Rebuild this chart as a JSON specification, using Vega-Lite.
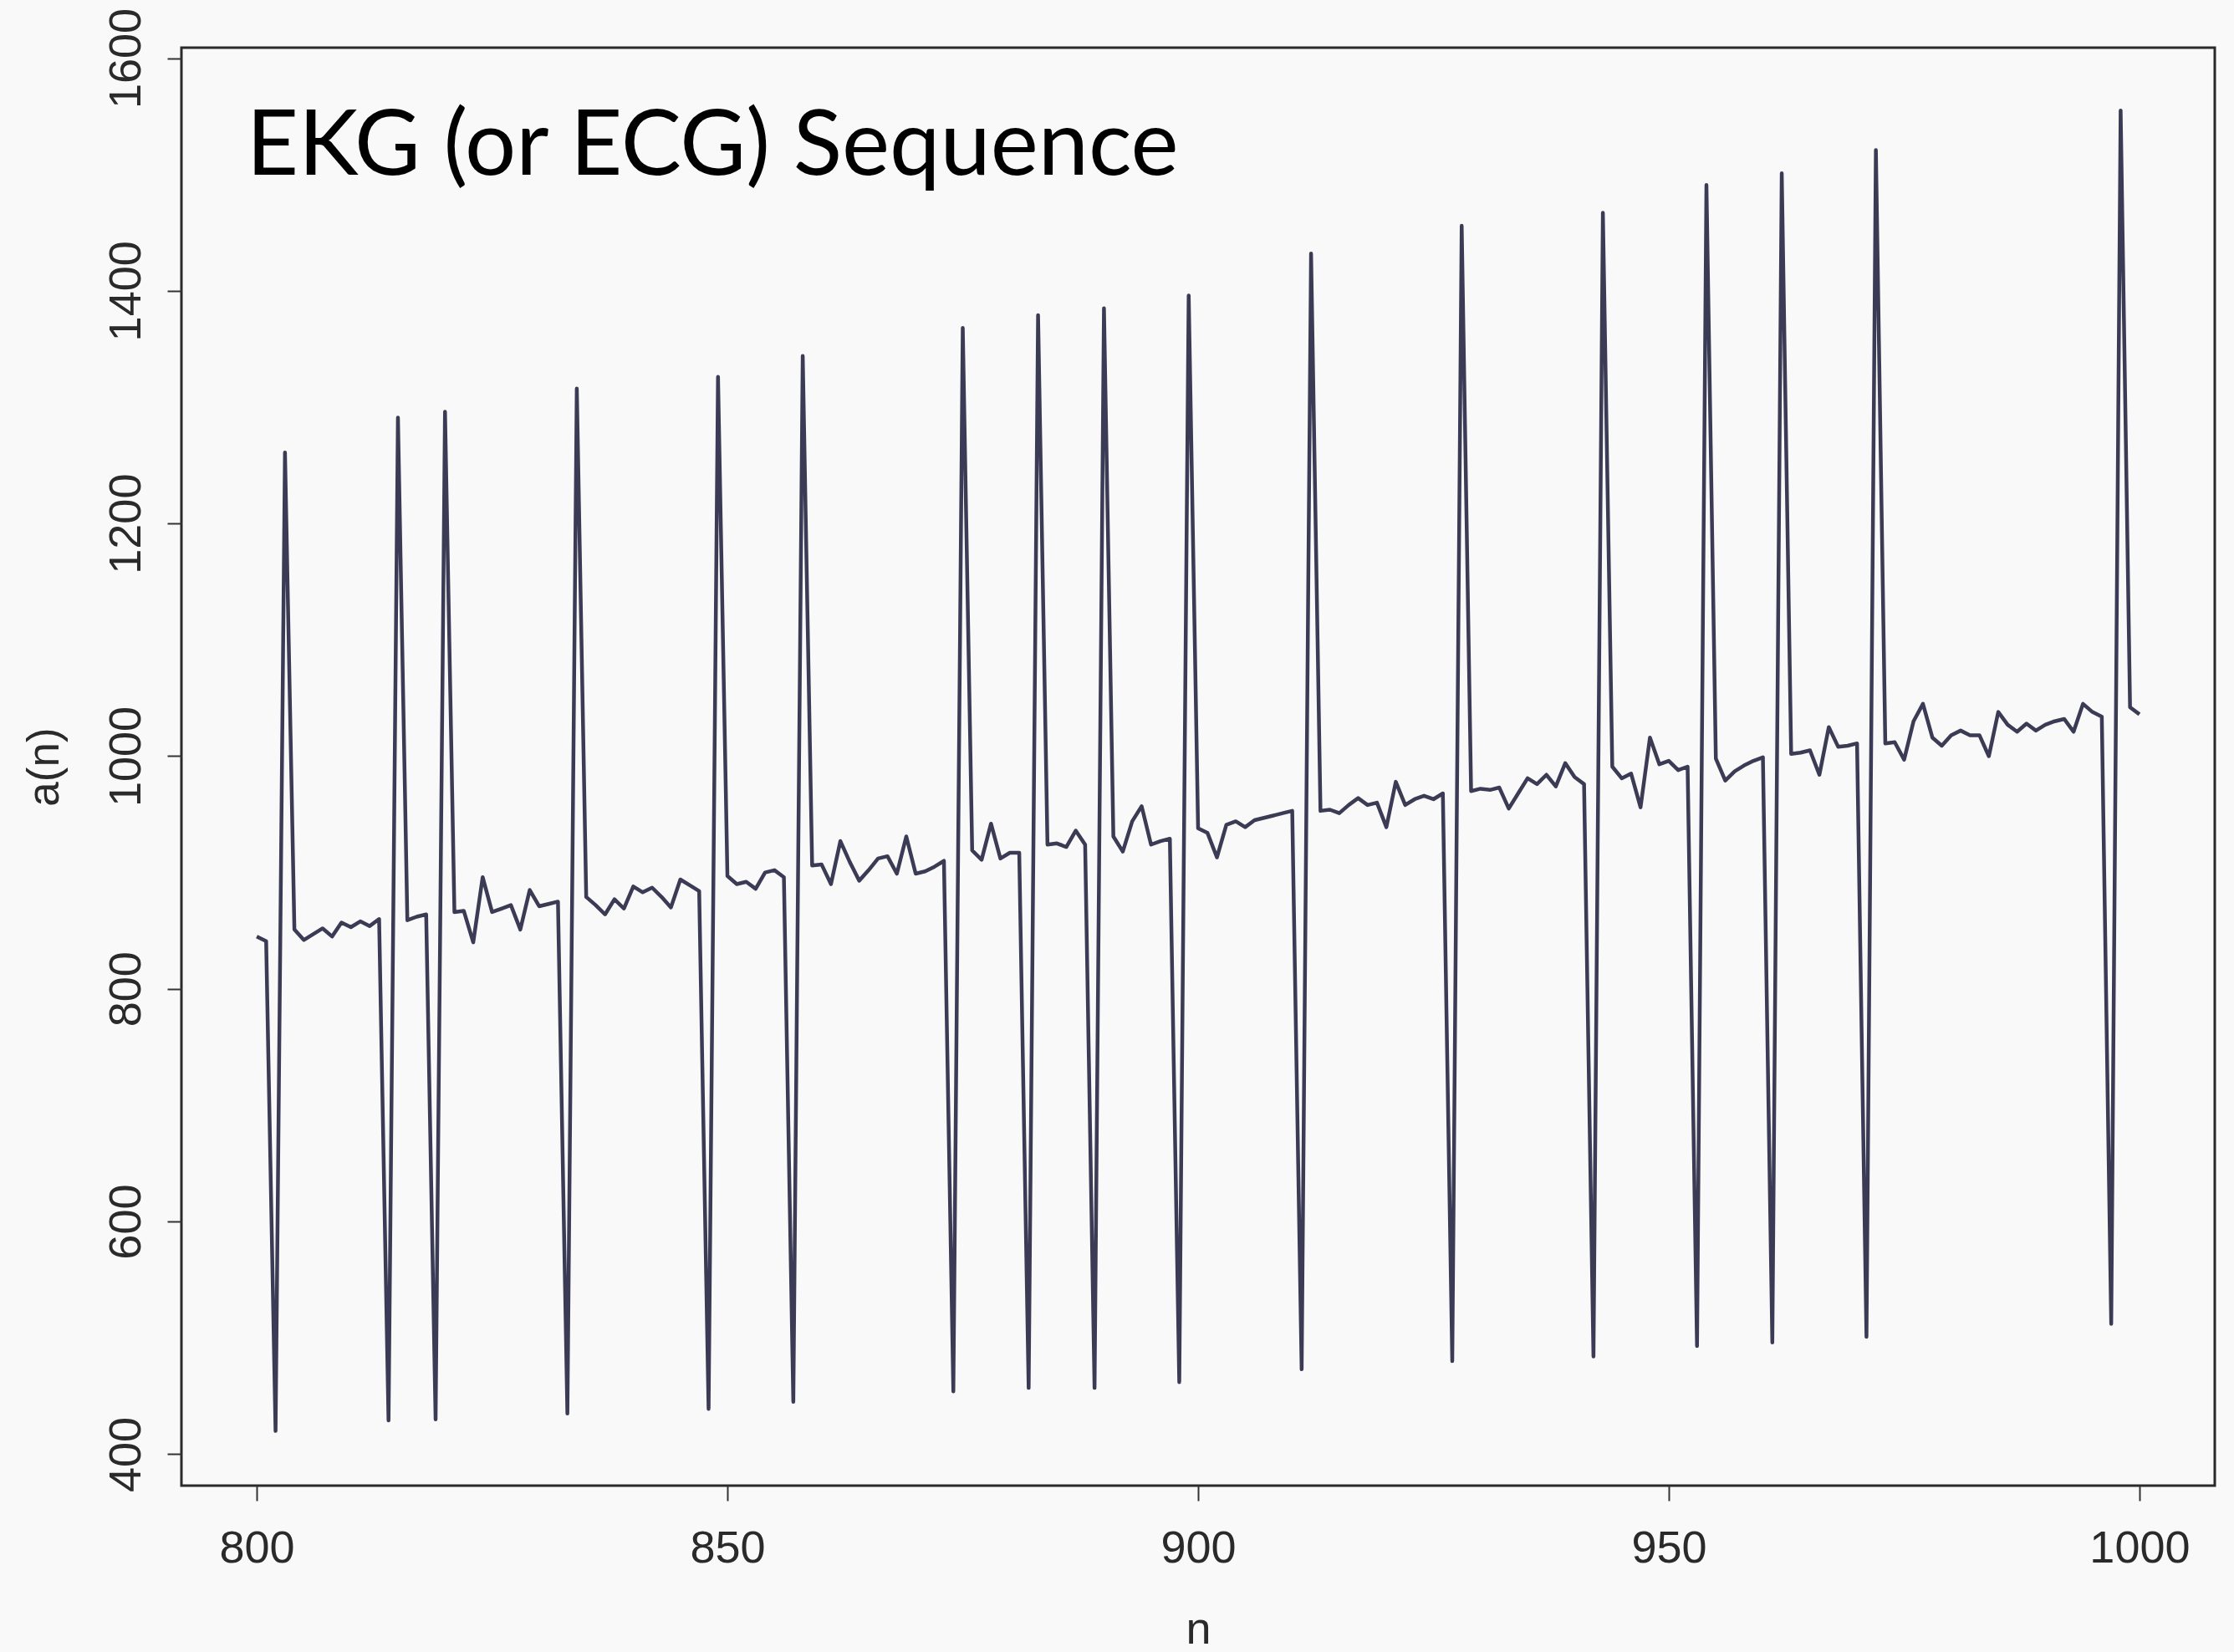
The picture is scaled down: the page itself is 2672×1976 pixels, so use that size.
{
  "$schema": "https://vega.github.io/schema/vega-lite/v6.json",
  "width": 2432,
  "height": 1720,
  "autosize": {"type": "none"},
  "padding": {"left": 217, "top": 57, "right": 23, "bottom": 199},
  "background": "#f9f9f9",
  "config": {
    "view": {"stroke": "#2a2a2a", "strokeWidth": 3}
  },
  "layer": [
    {
      "data": {
        "values": [
          {"n": 800, "a": 845}, {"n": 801, "a": 841}, {"n": 802, "a": 420}, {"n": 803, "a": 1261},
          {"n": 804, "a": 851}, {"n": 805, "a": 842}, {"n": 806, "a": 847}, {"n": 807, "a": 852},
          {"n": 808, "a": 845}, {"n": 809, "a": 857}, {"n": 810, "a": 853}, {"n": 811, "a": 858},
          {"n": 812, "a": 854}, {"n": 813, "a": 860}, {"n": 814, "a": 429}, {"n": 815, "a": 1291},
          {"n": 816, "a": 859}, {"n": 817, "a": 862}, {"n": 818, "a": 864}, {"n": 819, "a": 430},
          {"n": 820, "a": 1296}, {"n": 821, "a": 866}, {"n": 822, "a": 867}, {"n": 823, "a": 840},
          {"n": 824, "a": 896}, {"n": 825, "a": 866}, {"n": 826, "a": 869}, {"n": 827, "a": 872},
          {"n": 828, "a": 851}, {"n": 829, "a": 885}, {"n": 830, "a": 871}, {"n": 831, "a": 873},
          {"n": 832, "a": 875}, {"n": 833, "a": 435}, {"n": 834, "a": 1316}, {"n": 835, "a": 879},
          {"n": 836, "a": 872}, {"n": 837, "a": 864}, {"n": 838, "a": 877}, {"n": 839, "a": 869},
          {"n": 840, "a": 888}, {"n": 841, "a": 883}, {"n": 842, "a": 887}, {"n": 843, "a": 879},
          {"n": 844, "a": 870}, {"n": 845, "a": 894}, {"n": 846, "a": 889}, {"n": 847, "a": 884},
          {"n": 848, "a": 439}, {"n": 849, "a": 1326}, {"n": 850, "a": 897}, {"n": 851, "a": 890},
          {"n": 852, "a": 892}, {"n": 853, "a": 886}, {"n": 854, "a": 900}, {"n": 855, "a": 902},
          {"n": 856, "a": 896}, {"n": 857, "a": 445}, {"n": 858, "a": 1344}, {"n": 859, "a": 906},
          {"n": 860, "a": 907}, {"n": 861, "a": 890}, {"n": 862, "a": 927}, {"n": 863, "a": 909},
          {"n": 864, "a": 893}, {"n": 865, "a": 902}, {"n": 866, "a": 912}, {"n": 867, "a": 914},
          {"n": 868, "a": 899}, {"n": 869, "a": 931}, {"n": 870, "a": 899}, {"n": 871, "a": 901},
          {"n": 872, "a": 905}, {"n": 873, "a": 910}, {"n": 874, "a": 454}, {"n": 875, "a": 1368},
          {"n": 876, "a": 919}, {"n": 877, "a": 911}, {"n": 878, "a": 942}, {"n": 879, "a": 912},
          {"n": 880, "a": 917}, {"n": 881, "a": 917}, {"n": 882, "a": 457}, {"n": 883, "a": 1379},
          {"n": 884, "a": 924}, {"n": 885, "a": 925}, {"n": 886, "a": 922}, {"n": 887, "a": 936},
          {"n": 888, "a": 924}, {"n": 889, "a": 457}, {"n": 890, "a": 1385}, {"n": 891, "a": 931},
          {"n": 892, "a": 918}, {"n": 893, "a": 944}, {"n": 894, "a": 957}, {"n": 895, "a": 924},
          {"n": 896, "a": 927}, {"n": 897, "a": 929}, {"n": 898, "a": 462}, {"n": 899, "a": 1396},
          {"n": 900, "a": 938}, {"n": 901, "a": 934}, {"n": 902, "a": 913}, {"n": 903, "a": 941},
          {"n": 904, "a": 944}, {"n": 905, "a": 939}, {"n": 906, "a": 945}, {"n": 907, "a": 947},
          {"n": 908, "a": 949}, {"n": 909, "a": 951}, {"n": 910, "a": 953}, {"n": 911, "a": 473},
          {"n": 912, "a": 1432}, {"n": 913, "a": 953}, {"n": 914, "a": 954}, {"n": 915, "a": 951},
          {"n": 916, "a": 958}, {"n": 917, "a": 964}, {"n": 918, "a": 958}, {"n": 919, "a": 960},
          {"n": 920, "a": 939}, {"n": 921, "a": 978}, {"n": 922, "a": 958}, {"n": 923, "a": 963},
          {"n": 924, "a": 966}, {"n": 925, "a": 963}, {"n": 926, "a": 968}, {"n": 927, "a": 480},
          {"n": 928, "a": 1456}, {"n": 929, "a": 970}, {"n": 930, "a": 972}, {"n": 931, "a": 971},
          {"n": 932, "a": 973}, {"n": 933, "a": 955}, {"n": 934, "a": 968}, {"n": 935, "a": 981},
          {"n": 936, "a": 976}, {"n": 937, "a": 984}, {"n": 938, "a": 974}, {"n": 939, "a": 994},
          {"n": 940, "a": 982}, {"n": 941, "a": 976}, {"n": 942, "a": 484}, {"n": 943, "a": 1467},
          {"n": 944, "a": 991}, {"n": 945, "a": 981}, {"n": 946, "a": 985}, {"n": 947, "a": 956},
          {"n": 948, "a": 1016}, {"n": 949, "a": 993}, {"n": 950, "a": 996}, {"n": 951, "a": 988},
          {"n": 952, "a": 991}, {"n": 953, "a": 493}, {"n": 954, "a": 1491}, {"n": 955, "a": 998},
          {"n": 956, "a": 979}, {"n": 957, "a": 987}, {"n": 958, "a": 992}, {"n": 959, "a": 996},
          {"n": 960, "a": 999}, {"n": 961, "a": 496}, {"n": 962, "a": 1501}, {"n": 963, "a": 1002},
          {"n": 964, "a": 1003}, {"n": 965, "a": 1005}, {"n": 966, "a": 984}, {"n": 967, "a": 1025},
          {"n": 968, "a": 1008}, {"n": 969, "a": 1009}, {"n": 970, "a": 1011}, {"n": 971, "a": 501},
          {"n": 972, "a": 1521}, {"n": 973, "a": 1011}, {"n": 974, "a": 1012}, {"n": 975, "a": 997},
          {"n": 976, "a": 1030}, {"n": 977, "a": 1045}, {"n": 978, "a": 1016}, {"n": 979, "a": 1009},
          {"n": 980, "a": 1018}, {"n": 981, "a": 1022}, {"n": 982, "a": 1018}, {"n": 983, "a": 1018},
          {"n": 984, "a": 1000}, {"n": 985, "a": 1038}, {"n": 986, "a": 1027}, {"n": 987, "a": 1021},
          {"n": 988, "a": 1028}, {"n": 989, "a": 1022}, {"n": 990, "a": 1027}, {"n": 991, "a": 1030},
          {"n": 992, "a": 1032}, {"n": 993, "a": 1021}, {"n": 994, "a": 1045}, {"n": 995, "a": 1038},
          {"n": 996, "a": 1034}, {"n": 997, "a": 512}, {"n": 998, "a": 1555}, {"n": 999, "a": 1042},
          {"n": 1000, "a": 1036}
        ]
      },
      "mark": {"type": "line", "color": "#3b3b55", "strokeWidth": 4.5, "strokeJoin": "round"},
      "encoding": {
        "x": {
          "field": "n",
          "type": "quantitative",
          "scale": {"domain": [792, 1008], "nice": false, "zero": false},
          "axis": {
            "values": [800, 850, 900, 950, 1000],
            "format": "d",
            "title": "n",
            "domain": false,
            "grid": false,
            "tickSize": 18,
            "tickColor": "#333333",
            "tickWidth": 2,
            "labelFont": "Liberation Sans",
            "labelFontSize": 54,
            "labelColor": "#2a2a2a",
            "labelPadding": 30,
            "labelFlush": false,
            "labelOverlap": false,
            "labelBaseline": "top",
            "titleFont": "Liberation Sans",
            "titleFontSize": 54,
            "titleFontWeight": "normal",
            "titleColor": "#2a2a2a",
            "titleY": 188,
            "titleBaseline": "alphabetic"
          }
        },
        "y": {
          "field": "a",
          "type": "quantitative",
          "scale": {"domain": [373, 1609], "nice": false, "zero": false},
          "axis": {
            "values": [400, 600, 800, 1000, 1200, 1400, 1600],
            "format": "d",
            "title": "a(n)",
            "domain": false,
            "grid": false,
            "tickSize": 17,
            "tickColor": "#333333",
            "tickWidth": 2,
            "labelFont": "Liberation Sans",
            "labelFontSize": 54,
            "labelColor": "#2a2a2a",
            "labelAngle": -90,
            "labelAlign": "center",
            "labelBaseline": "alphabetic",
            "labelPadding": 33,
            "labelFlush": false,
            "labelOverlap": false,
            "titleFont": "Liberation Sans",
            "titleFontSize": 53,
            "titleFontWeight": "normal",
            "titleColor": "#2a2a2a",
            "titleAngle": -90,
            "titleX": -148,
            "titleBaseline": "alphabetic"
          }
        }
      }
    },
    {
      "data": {"values": [{"label": "EKG (or ECG) Sequence"}]},
      "mark": {
        "type": "text",
        "align": "left",
        "baseline": "alphabetic",
        "font": "Lato",
        "fontSize": 108,
        "fontWeight": "normal",
        "color": "#000000"
      },
      "encoding": {
        "text": {"field": "label", "type": "nominal"},
        "x": {"datum": 798.9, "type": "quantitative"},
        "y": {"datum": 1500, "type": "quantitative"}
      }
    }
  ]
}
